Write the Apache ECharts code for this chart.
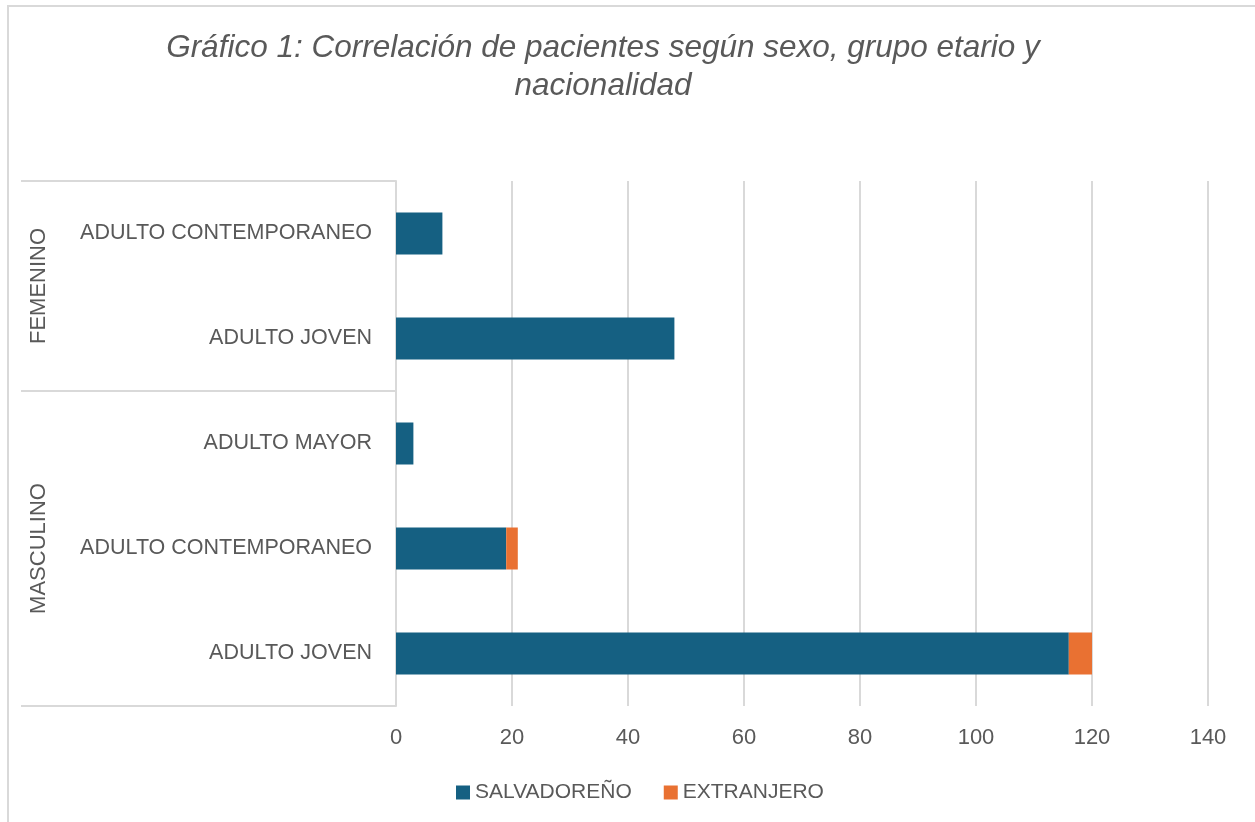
<!DOCTYPE html>
<html>
<head>
<meta charset="utf-8">
<script src="https://cdn.jsdelivr.net/npm/echarts@6/dist/echarts.min.js"></script>
<style>
  html, body { margin: 0; padding: 0; background: #fff; }
  #chart { width: 1255px; height: 822px; }
</style>
</head>
<body>
<div id="chart"></div>
<script>
// categorias, de arriba hacia abajo
const categorias = ['ADULTO CONTEMPORANEO', 'ADULTO JOVEN', 'ADULTO MAYOR', 'ADULTO CONTEMPORANEO', 'ADULTO JOVEN']
const grupos = ['FEMENINO', 'MASCULINO']
const grupoCentro = [1, 3.5]   // centro de cada grupo en filas
const grupoLimites = [0, 2, 5]  // bordes de los grupos en filas
const salvadoreno = [8, 48, 3, 19, 116]
const extranjero = [0, 0, 0, 2, 4]
const ticksX = { min: 0, max: 140, interval: 20 }

const gris = '#595959'
const linea = '#d9d9d9'
const fuente = 'Liberation Sans, Arial, sans-serif'

let chart = echarts.init(document.getElementById('chart'))
let option = {
  animation: false,
  backgroundColor: '#fff',
  title: {
    text: 'Gráfico 1: Correlación de pacientes según sexo, grupo etario y\nnacionalidad',
    left: 598,
    top: 24,
    textAlign: 'center',
    textStyle: {
      fontFamily: fuente,
      fontStyle: 'italic',
      fontWeight: 'normal',
      fontSize: 31.5,
      lineHeight: 38,
      color: gris
    }
  },
  graphic: [{
    // borde del area del grafico
    type: 'rect',
    shape: { x: 8, y: 6, width: 1400, height: 1000 },
    style: { fill: null, stroke: linea, lineWidth: 2 },
    silent: true
  }],
  legend: {
    data: ['SALVADOREÑO', 'EXTRANJERO'],
    left: 451,
    top: 777,
    icon: 'rect',
    itemWidth: 14,
    itemHeight: 14,
    itemGap: 32,
    textStyle: { fontFamily: fuente, fontSize: 21, color: gris }
  },
  grid: { left: 396, right: 47, top: 181, bottom: 116 },
  xAxis: {
    type: 'value',
    min: ticksX.min,
    max: ticksX.max,
    interval: ticksX.interval,
    axisLine: { show: false },
    axisTick: { show: false },
    axisLabel: { fontFamily: fuente, fontSize: 22, color: gris, margin: 21 },
    splitLine: { lineStyle: { color: linea, width: 2 } }
  },
  yAxis: [
    {
      type: 'category',
      data: categorias,
      inverse: true,
      axisLine: { lineStyle: { color: linea, width: 2 } },
      axisTick: { show: false },
      axisLabel: { fontFamily: fuente, fontSize: 21.5, color: gris, margin: 24 }
    },
    {
      // etiquetas de grupo (sexo)
      type: 'value',
      position: 'left',
      inverse: true,
      min: 0,
      max: 5,
      axisLine: { show: false },
      splitLine: { show: false },
      axisTick: {
        show: true,
        customValues: grupoLimites,
        length: 375,
        lineStyle: { color: linea, width: 2 }
      },
      axisLabel: {
        customValues: grupoCentro,
        rotate: 90,
        margin: 346,
        fontFamily: fuente,
        fontSize: 22,
        color: gris,
        formatter: v => grupos[grupoCentro.indexOf(v)]
      }
    }
  ],
  series: [
    {
      name: 'SALVADOREÑO',
      type: 'bar',
      stack: 'total',
      barWidth: 42,
      itemStyle: { color: '#156082' },
      data: salvadoreno
    },
    {
      name: 'EXTRANJERO',
      type: 'bar',
      stack: 'total',
      barWidth: 42,
      itemStyle: { color: '#e97132' },
      data: extranjero
    }
  ]
}
chart.setOption(option)
</script>
</body>
</html>
